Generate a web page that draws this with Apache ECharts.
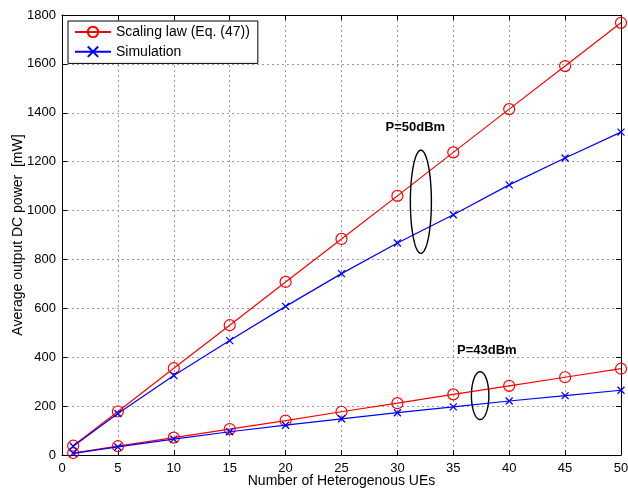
<!DOCTYPE html>
<html><head><meta charset="utf-8">
<script src="https://cdn.jsdelivr.net/npm/echarts@6/dist/echarts.min.js"></script>
<style>html,body{margin:0;padding:0;background:#fff}#c{width:628px;height:491px}</style>
</head><body><div id="c"></div>
<script>
const xs = [1, 5, 10, 15, 20, 25, 30, 35, 40, 45, 50];
const scaling50 = [38, 178, 355, 531, 708, 884, 1060, 1238, 1415, 1591, 1768];
const sim50 = [36, 170, 325, 468, 608, 742, 867, 983, 1105, 1215, 1321];
const scaling43 = [8, 36, 71, 106, 141, 177, 212, 248, 283, 318, 353];
const sim43 = [7, 33, 65, 95, 122, 148, 173, 197, 221, 243, 265];
const xTicks = [0, 5, 10, 15, 20, 25, 30, 35, 40, 45, 50];
const yTicks = [0, 200, 400, 600, 800, 1000, 1200, 1400, 1600, 1800];
const nameA = 'Scaling law (Eq. (47))';
const nameB = 'Simulation';
const annotations = [
  {label: 'P=50dBm', lx: 31.6, ly: 1340, cx: 32.1, cy: 1036, rx: 0.94, ry: 211},
  {label: 'P=43dBm', lx: 38.0, ly: 427, cx: 37.4, cy: 243, rx: 0.78, ry: 98}
];

const FONT = '"Liberation Sans", Arial, Helvetica, sans-serif';
const xMark = 'path://M0,0L10,10M10,0L0,10';
const pair = (a, b) => a.map((v, i) => [xs[i], b[i]]);

function redSeries(data) {
  return {name: nameA, type: 'line', data, symbol: 'circle', symbolSize: 11,
    lineStyle: {color: '#ff0000', width: 1.2},
    itemStyle: {color: 'rgba(255,255,255,0)', borderColor: '#ff0000', borderWidth: 1.2}, z: 2};
}
function blueSeries(data) {
  return {name: nameB, type: 'line', data, symbol: xMark, symbolSize: 7,
    lineStyle: {color: '#0000ff', width: 1.2},
    itemStyle: {color: 'none', borderColor: '#0000ff', borderWidth: 1.3}, z: 3};
}
const gridLine = {show: true, lineStyle: {color: '#999', type: [2, 3], width: 1}};
const axisLine = {show: true, onZero: false, lineStyle: {color: '#000', width: 1}};
const tickIn = {show: true, inside: true, length: 5, lineStyle: {color: '#000'}};
const labelStyle = {color: '#000', fontSize: 13, fontFamily: FONT};

const chart = echarts.init(document.getElementById('c'), null, {renderer: 'canvas'});
chart.setOption({
  animation: false,
  backgroundColor: '#fff',
  grid: {left: 62, right: 7, top: 15, bottom: 36, containLabel: false, outerBoundsMode: 'none'},
  legend: {
    data: [nameA, nameB], orient: 'vertical', left: 68, top: 21,
    backgroundColor: '#fff', borderColor: '#000', borderWidth: 1,
    padding: [4, 8, 4, 6], itemGap: 5, itemWidth: 36, itemHeight: 13,
    textStyle: {color: '#000', fontSize: 14, fontFamily: FONT}
  },
  xAxis: [
    {type: 'value', min: 0, max: 50, interval: 5, position: 'bottom',
     name: 'Number of Heterogenous UEs', nameLocation: 'middle', nameGap: 19, nameMoveOverlap: false,
     nameTextStyle: {color: '#000', fontSize: 14, fontFamily: FONT},
     axisLine, axisTick: tickIn, axisLabel: {...labelStyle, margin: 7}, splitLine: gridLine},
    {type: 'value', min: 0, max: 50, interval: 5, position: 'top',
     axisLine, axisTick: tickIn, axisLabel: {show: false}, splitLine: {show: false}}
  ],
  yAxis: [
    {type: 'value', min: 0, max: 1800, interval: 200, position: 'left',
     name: 'Average output DC power  [mW]', nameLocation: 'middle', nameGap: 37, nameMoveOverlap: false,
     nameTextStyle: {color: '#000', fontSize: 14, fontFamily: FONT},
     axisLine, axisTick: tickIn, axisLabel: {...labelStyle, margin: 6, formatter: v => String(v)}, splitLine: gridLine},
    {type: 'value', min: 0, max: 1800, interval: 200, position: 'right',
     axisLine, axisTick: tickIn, axisLabel: {show: false}, splitLine: {show: false}}
  ],
  series: [
    redSeries(pair(xs, scaling50)),
    blueSeries(pair(xs, sim50)),
    redSeries(pair(xs, scaling43)),
    blueSeries(pair(xs, sim43))
  ]
});

const graphics = [];
annotations.forEach(a => {
  const c = chart.convertToPixel({gridIndex: 0}, [a.cx, a.cy]);
  const e = chart.convertToPixel({gridIndex: 0}, [a.cx + a.rx, a.cy + a.ry]);
  const rxp = Math.abs(e[0] - c[0]), ryp = Math.abs(e[1] - c[1]);
  const pts = [];
  for (let i = 0; i < 96; i++) {
    const t = i / 96 * Math.PI * 2;
    pts.push([c[0] + rxp * Math.cos(t), c[1] + ryp * Math.sin(t)]);
  }
  graphics.push({type: 'polygon', shape: {points: pts}, style: {fill: 'none', stroke: '#000', lineWidth: 1.4}, z: 10});
  const l = chart.convertToPixel({gridIndex: 0}, [a.lx, a.ly]);
  graphics.push({type: 'text', x: l[0], y: l[1], z: 10,
    style: {text: a.label, fill: '#000', font: 'bold 13px ' + FONT, textAlign: 'center', textVerticalAlign: 'middle'}});
});
chart.setOption({graphic: graphics});
</script></body></html>
